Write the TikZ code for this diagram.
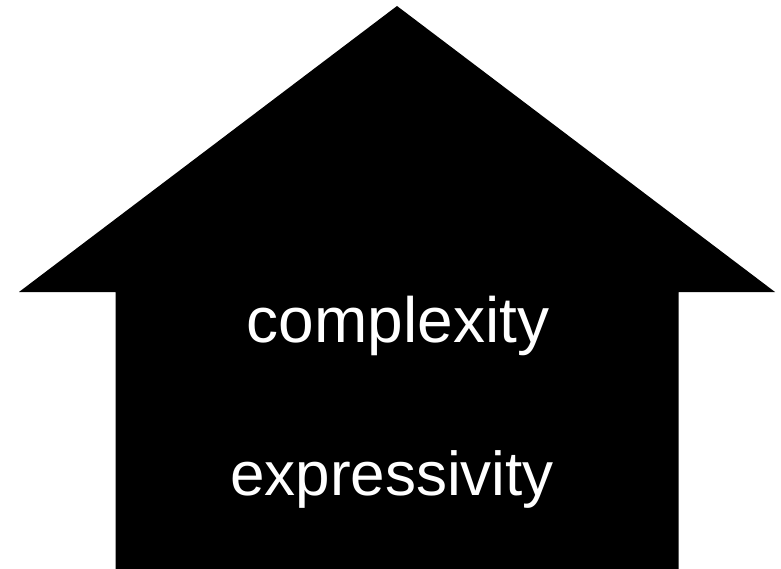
\documentclass[tikz,border=0pt]{standalone}
\usepackage{fontspec}
\setmainfont{Liberation Sans}
\begin{document}
\begin{tikzpicture}[x=1pt,y=-1pt,
  lbl/.style={text=white,anchor=base,inner sep=0pt}]
\useasboundingbox (0,0) rectangle (781,569);
\fill[black] (397,6) -- (775,292) -- (678.5,292) -- (678.5,569) -- (115.5,569) -- (115.5,292) -- (19,292) -- cycle;
\node[lbl,font=\fontsize{64}{72}\selectfont] (c) at (398,342) {complexity};
\node[lbl,font=\fontsize{62}{70}\selectfont] (e) at (392,495) {expressivity};
\end{tikzpicture}
\end{document}
